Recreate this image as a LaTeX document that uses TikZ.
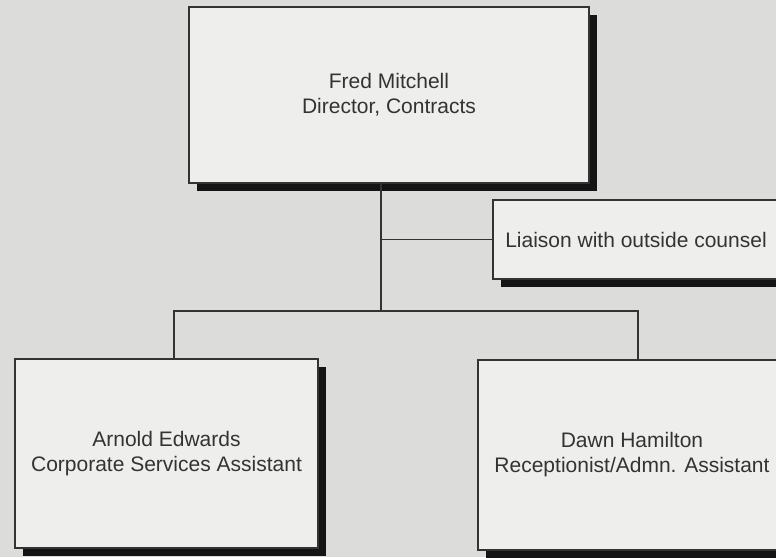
\documentclass[tikz,border=0pt]{standalone}
\usepackage{fontspec}
\setmainfont{Liberation Sans}
\usetikzlibrary{shadows}
\definecolor{Ink}{HTML}{141414}
\definecolor{Paper}{HTML}{DCDCDA}
\definecolor{Card}{HTML}{EEEEEC}
\definecolor{Graphite}{HTML}{333333}
\tikzset{
  post/.style={
    rectangle, draw=Graphite, line width=1.6pt, fill=Card,
    text=Graphite, align=center, inner sep=0pt,
    font=\fontsize{21}{25}\selectfont,
    drop shadow={shadow xshift=8pt, shadow yshift=-8pt, fill=Ink, opacity=1}
  },
  link/.style={line width=1.5pt, draw=Graphite}
}
\begin{document}
\begin{tikzpicture}[x=1pt,y=-1pt]
    \useasboundingbox (0,0) rectangle (776,557);
    \clip (0,0) rectangle (776,557);
    \fill[Paper] (0,0) rectangle (776,557);
    % boxes
    \node[post,minimum width=400pt,minimum height=176pt] (fred) at (389,95) {Fred Mitchell\\Director, Contracts};
    \node[post,minimum width=286pt,minimum height=79pt] (liaison) at (636,239.5) {Liaison with outside counsel};
    \node[post,minimum width=303pt,minimum height=189pt] (arnold) at (166.5,453.5) {Arnold Edwards\\Corporate Services Assistant};
    \node[post,minimum width=308pt,minimum height=190pt] (dawn) at (632,455) {Dawn Hamilton\\Receptionist/Admn. Assistant};
    % lines
    \coordinate (trunk) at (381,311);
    \coordinate (busL) at (174,311);
    \coordinate (busR) at (638,311);
    \draw[link] (trunk |- fred.south) -- (trunk);
    \draw[link] (trunk |- liaison.west) -- (liaison.west);
    \draw[link] (busL |- arnold.north) -- (busL) -- (busR) -- (busR |- dawn.north);
\end{tikzpicture}
\end{document}
